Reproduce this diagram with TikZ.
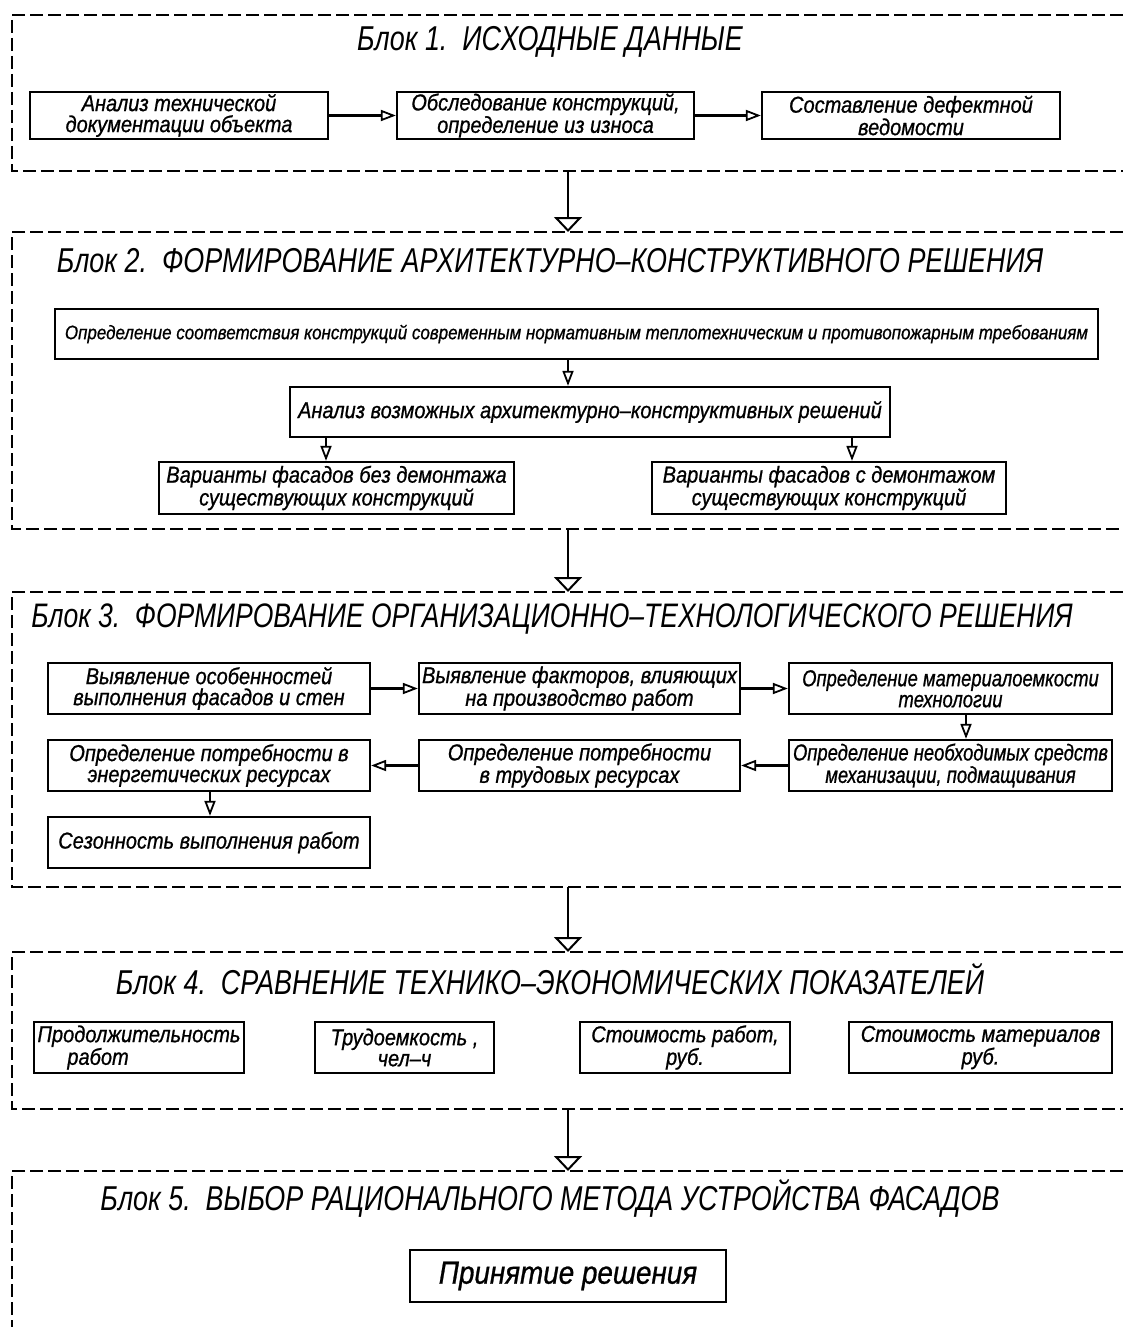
\documentclass[tikz,border=0pt]{standalone}
\usepackage{fontspec}
\setmainfont{Liberation Sans}
\newfontfamily\ttlfont{Liberation Sans}[FakeStretch=0.78]
\newfontfamily\bxfont{Liberation Sans}[FakeStretch=0.87,FakeBold=0.8]
\newfontfamily\bxfontn{Liberation Sans}[FakeStretch=0.8,FakeBold=0.8]
\usetikzlibrary{arrows.meta}
\tikzset{
 dframe/.style={line width=2.6pt, dash pattern=on 13pt off 5pt},
 bx/.style={draw, line width=2.3pt, inner sep=1pt, align=center,
   font=\bxfont\itshape\fontsize{23}{21}\selectfont},
 ttl/.style={font=\ttlfont\itshape\fontsize{34.5}{35}\selectfont, inner sep=0pt},
 bigarr/.style={line width=2pt, -{Triangle[open,length=15pt,width=28pt,line width=2pt]}},
 smarr/.style={line width=2.2pt, -{Triangle[open,length=15pt,width=11pt,line width=1.8pt]}},
}
\begin{document}
\begin{tikzpicture}[x=1pt,y=-1pt]
\useasboundingbox (0,0) rectangle (1123,1327);
\fill[white] (0,0) rectangle (1123,1327);

% ---------- frames ----------
\draw[dframe] (1123,15) -- (12,15) -- (12,171) -- (1123,171);
\draw[dframe] (1123,232) -- (12,232) -- (12,529) -- (1123,529);
\draw[dframe] (1123,592) -- (12,592) -- (12,887) -- (1123,887);
\draw[dframe] (1123,952) -- (12,952) -- (12,1109) -- (1123,1109);
\draw[dframe] (1123,1171) -- (12,1171) -- (12,1327);

\coordinate (f1b) at (568,171);
\coordinate (f2t) at (568,232);
\coordinate (f2b) at (568,529);
\coordinate (f3t) at (568,592);
\coordinate (f3b) at (568,887);
\coordinate (f4t) at (568,952);
\coordinate (f4b) at (568,1109);
\coordinate (f5t) at (568,1171);

% ---------- titles ----------
\node[ttl] (t1) at (550,42) {Блок 1.\ \ ИСХОДНЫЕ ДАННЫЕ};
\node[ttl] (t2) at (550,261) {Блок 2.\ \ ФОРМИРОВАНИЕ АРХИТЕКТУРНО–КОНСТРУКТИВНОГО РЕШЕНИЯ};
\node[ttl, font=\ttlfont\itshape\fontsize{34}{35}\selectfont] (t3) at (552,619) {Блок 3.\ \ ФОРМИРОВАНИЕ ОРГАНИЗАЦИОННО–ТЕХНОЛОГИЧЕСКОГО РЕШЕНИЯ};
\node[ttl] (t4) at (550,979) {Блок 4.\ \ СРАВНЕНИЕ ТЕХНИКО–ЭКОНОМИЧЕСКИХ ПОКАЗАТЕЛЕЙ};
\node[ttl] (t5) at (550,1198) {Блок 5.\ \ ВЫБОР РАЦИОНАЛЬНОГО МЕТОДА УСТРОЙСТВА ФАСАДОВ};

% ---------- block 1 ----------
\node[bx, minimum width=298pt, minimum height=47pt] (b11) at (179,115.5) {Анализ технической\\документации объекта};
\node[bx, minimum width=297pt, minimum height=47pt] (b12) at (545.5,115.5) {Обследование конструкций,\\определение из износа};
\node[bx, minimum width=298pt, minimum height=47pt] (b13) at (911,115.5) {Составление дефектной\\ведомости};
\draw[smarr] (b11) -- (b12);
\draw[smarr] (b12) -- (b13);

% ---------- block 2 ----------
\node[bx, minimum width=1043pt, minimum height=50pt, font=\bxfont\itshape\fontsize{19.5}{20}\selectfont] (b2a) at (576.5,334) {Определение соответствия конструкций современным нормативным теплотехническим и противопожарным требованиям};
\node[bx, minimum width=600pt, minimum height=50pt] (b2b) at (590,412) {Анализ возможных архитектурно–конструктивных решений};
\node[bx, minimum width=355pt, minimum height=52pt] (b2c) at (336.5,488) {Варианты фасадов без демонтажа\\существующих конструкций};
\node[bx, minimum width=354pt, minimum height=52pt] (b2d) at (829,488) {Варианты фасадов с демонтажом\\существующих конструкций};
\draw[smarr] (b2a.south -| 568,0) -- (b2b.north -| 568,0);
\draw[smarr] (b2b.south -| 326,0) -- (b2c.north -| 326,0);
\draw[smarr] (b2b.south -| 852,0) -- (b2d.north -| 852,0);

% ---------- block 3 ----------
\node[bx, minimum width=322pt, minimum height=51pt] (r1c1) at (209,688.5) {Выявление особенностей\\выполнения фасадов и стен};
\node[bx, minimum width=321pt, minimum height=51pt] (r1c2) at (579.5,688.5) {Выявление факторов, влияющих\\на производство работ};
\node[bx, minimum width=323pt, minimum height=51pt, font=\bxfontn\itshape\fontsize{23}{21}\selectfont] (r1c3) at (950.5,688.5) {Определение материалоемкости\\технологии};
\node[bx, minimum width=322pt, minimum height=51pt] (r2c1) at (209,765.5) {Определение потребности в\\энергетических ресурсах};
\node[bx, minimum width=321pt, minimum height=51pt] (r2c2) at (579.5,765.5) {Определение потребности\\в трудовых ресурсах};
\node[bx, minimum width=323pt, minimum height=51pt, font=\bxfontn\itshape\fontsize{23}{21}\selectfont] (r2c3) at (950.5,765.5) {Определение необходимых средств\\механизации, подмащивания};
\node[bx, minimum width=322pt, minimum height=51pt] (r3c1) at (209,842.5) {Сезонность выполнения работ};
\draw[smarr] (r1c1) -- (r1c2);
\draw[smarr] (r1c2) -- (r1c3);
\draw[smarr] (r1c3.south -| 966,0) -- (r2c3.north -| 966,0);
\draw[smarr] (r2c3) -- (r2c2);
\draw[smarr] (r2c2) -- (r2c1);
\draw[smarr] (r2c1.south -| 210,0) -- (r3c1.north -| 210,0);

% ---------- block 4 ----------
\node[bx, minimum width=210pt, minimum height=51pt, align=left] (b41) at (139,1047.5) {Продолжительность\\\hspace*{1.3em}работ};
\node[bx, minimum width=179pt, minimum height=51pt] (b42) at (404.5,1047.5) {Трудоемкость ,\\чел–ч};
\node[bx, minimum width=210pt, minimum height=51pt] (b43) at (685,1047.5) {Стоимость работ,\\руб.};
\node[bx, minimum width=263pt, minimum height=51pt] (b44) at (980.5,1047.5) {Стоимость материалов\\руб.};

% ---------- block 5 ----------
\node[bx, minimum width=316pt, minimum height=52pt, font=\bxfont\itshape\fontsize{32}{32}\selectfont] (b51) at (568,1276) {Принятие решения};

% ---------- block connectors ----------
\draw[bigarr] (f1b) -- (f2t);
\draw[bigarr] (f2b) -- (f3t);
\draw[bigarr] (f3b) -- (f4t);
\draw[bigarr] (f4b) -- (f5t);
\end{tikzpicture}
\end{document}
